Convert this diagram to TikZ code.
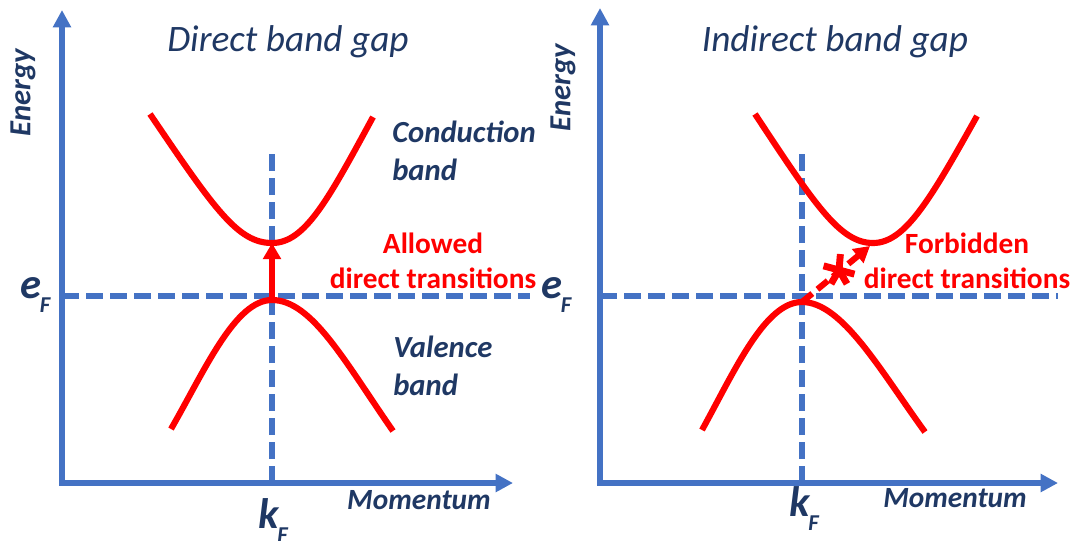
\documentclass[tikz,border=0pt]{standalone}
\usepackage{fontspec}
\setmainfont{Carlito}
\usetikzlibrary{arrows.meta,positioning}
\definecolor{axisblue}{RGB}{68,114,196}
\definecolor{labelnavy}{RGB}{31,56,100}
\definecolor{bandred}{RGB}{255,0,0}
\newcommand{\lowsub}[1]{\kern-1pt\raisebox{-10.5pt}{\fontsize{17}{18}\selectfont #1}}
\tikzset{
  axes/.style={{Triangle[length=13pt,width=13pt]}-{Triangle[length=13pt,width=13pt]}, line width=4.2pt, axisblue, line join=miter},
  guide/.style={axisblue, line width=4.5pt, dash pattern=on 13pt off 5pt},
  band/.style={bandred, line width=4.6pt},
  transition/.style={-{Triangle[length=12pt,width=13pt]}, bandred, line width=4.6pt},
  heading/.style={font=\fontsize{28}{32}\selectfont\itshape, text=labelnavy, inner sep=0pt},
  axisname/.style={font=\fontsize{22}{26}\selectfont\bfseries\itshape, text=labelnavy, inner sep=0pt},
  bandname/.style={font=\fontsize{23}{28}\selectfont\bfseries\itshape, text=labelnavy, align=left, inner sep=0pt},
  varname/.style={font=\fontsize{32}{34}\selectfont\bfseries\itshape, text=labelnavy, inner sep=0pt},
  note/.style={font=\fontsize{22}{26.5}\selectfont\bfseries, text=bandred, align=center, inner sep=0pt}
}

\begin{document}
\begin{tikzpicture}[x=0.75pt, y=-0.75pt]
  \useasboundingbox (0,0) rectangle (1074,540);
  % direct gap
  \coordinate (top1) at (62,10);
  \coordinate (orig1) at (62,483);
  \coordinate (end1) at (513,483);
  \coordinate (kf1) at (272,483);
  \coordinate (cmin1) at (272,243);
  \coordinate (vmax1) at (272,300);
  \draw[guide] (kf1) -- (272,152);
  \draw[guide] (62,296) -- (530,296);
  \draw[axes] (top1) -- (orig1) -- (end1);
  \draw[band] (150,114) .. controls (215,210) and (238,243) .. (cmin1) .. controls (305,243) and (328,200) .. (373,117);
  \draw[band] (171,429) .. controls (205,370) and (235,300) .. (vmax1) .. controls (312,300) and (345,362) .. (393,431);
  \draw[transition] (vmax1) -- (cmin1);
  \node[heading] (title1) at (288,42) {Direct band gap};
  \node[axisname, font=\fontsize{23}{26}\selectfont\bfseries\itshape, rotate=90] (energy1) at (23,93) {Energy};
  \node[axisname] (mom1) at (419,500) {Momentum};
  \node[bandname, anchor=west] (cond1) at (392,151) {Conduction\\band};
  \node[bandname, anchor=west] (val1) at (393,366) {Valence\\band};
  \node[note] (allow) at (433,261) {Allowed\\direct transitions};
  \node[varname, anchor=base west] (ef1) at (20,298) {e\lowsub{F}};
  \node[varname, anchor=base west] (kfl1) at (258,528) {k\lowsub{F}};
  % indirect gap
  \coordinate (top2) at (600,8);
  \coordinate (orig2) at (600,483);
  \coordinate (end2) at (1058,483);
  \coordinate (kf2) at (802,483);
  \coordinate (cmin2) at (873,243);
  \coordinate (vmax2) at (802,302);
  \coordinate (cross) at (839,270);
  \draw[guide] (kf2) -- (802,152);
  \draw[guide] (600,296) -- (1058,296);
  \draw[axes] (top2) -- (orig2) -- (end2);
  \draw[band] (755,114) .. controls (815,205) and (840,243) .. (cmin2) .. controls (905,243) and (930,200) .. (977,116);
  \draw[band] (702,430) .. controls (735,370) and (765,302) .. (vmax2) .. controls (842,302) and (880,370) .. (925,432);
  \draw[transition, dash pattern=on 10pt off 5pt] (vmax2) -- (870,246);
  \foreach \a in {85,165,240,300,345}
    \draw[band, line width=5.2pt] (cross) -- ++({16*cos(\a)},{-16*sin(\a)});
  \node[heading] (title2) at (835,42) {Indirect band gap};
  \node[axisname, font=\fontsize{23}{26}\selectfont\bfseries\itshape, rotate=90] (energy2) at (563,88) {Energy};
  \node[axisname] (mom2) at (955,498) {Momentum};
  \node[note] (forbid) at (967,261) {Forbidden\\direct transitions};
  \node[varname, anchor=base west] (ef2) at (541,298) {e\lowsub{F}};
  \node[varname, anchor=base west] (kfl2) at (789,516) {k\lowsub{F}};
\end{tikzpicture}
\end{document}
